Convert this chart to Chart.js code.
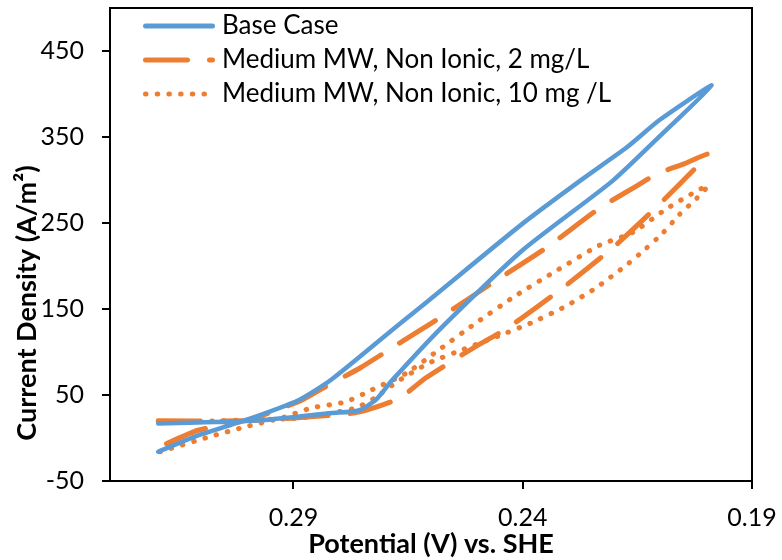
<!DOCTYPE html>
<html>
<head>
<meta charset="utf-8">
<script src="https://cdn.jsdelivr.net/npm/chart.js@4.4.0/dist/chart.umd.min.js"></script>
<style>
  html, body { margin: 0; padding: 0; background: #fff; }
</style>
</head>
<body>
<canvas id="cvChart" width="782" height="560"></canvas>
<script>
// tick labels
const xTicks = [0.19, 0.24, 0.29];
const yTicks = [-50, 50, 150, 250, 350, 450];

const seriesNames = [
  'Base Case',
  'Medium MW, Non Ionic, 2 mg/L',
  'Medium MW, Non Ionic, 10 mg /L'
];
const yTitle = 'Current Density (A/m²)';

// Base Case: forward scan then reverse scan
const baseV = [0.3195, 0.3108, 0.2961, 0.2817, 0.2758, 0.2721, 0.2685, 0.2576, 0.2401, 0.2204, 0.2101, 0.1988,
               0.2101, 0.2173, 0.2270, 0.2401, 0.2605, 0.2670, 0.2817, 0.2889, 0.2998, 0.3108, 0.3195];
const baseJ = [17, 18, 21, 29, 32, 44, 67, 129, 218, 299, 351, 410,
               370, 338, 301, 249, 160, 132, 68, 44, 22, 3, -16];

// 2 mg/L
const mw2V = [0.3195, 0.3020, 0.2904, 0.2808, 0.2758, 0.2670, 0.2611, 0.2510, 0.2430, 0.2314, 0.2204, 0.2123, 0.2062, 0.1996,
              0.2047, 0.2108, 0.2152, 0.2233, 0.2349, 0.2467, 0.2589, 0.2670, 0.2753, 0.2839, 0.2882, 0.2939, 0.2998, 0.3108, 0.3195];
const mw2J = [20, 20, 23, 27, 30, 46, 70, 104, 129, 174, 221, 261, 293, 330,
              319, 307, 293, 267, 221, 180, 137, 110, 82, 57, 44, 32, 21, 9, -11];

// 10 mg/L
const mw10V = [0.3191, 0.3086, 0.3005, 0.2928, 0.2860, 0.2786, 0.2729, 0.2655, 0.2589, 0.2504, 0.2414, 0.2322, 0.2233, 0.2160, 0.2088, 0.2018, 0.1996,
               0.2020, 0.2058, 0.2095, 0.2134, 0.2174, 0.2239, 0.2307, 0.2381, 0.2456, 0.2530, 0.2605, 0.2675, 0.2721, 0.2764, 0.2817, 0.2889, 0.2998, 0.3191];
const mw10J = [-16, 1, 13, 23, 35, 42, 56, 75, 100, 133, 166, 196, 224, 239, 266, 288, 293,
               279, 260, 238, 219, 201, 175, 153, 134, 118, 103, 87, 65, 47, 35, 29, 23, 21, 18];

const toPoints = (xs, ys) => xs.map((v, i) => ({ x: v, y: ys[i] }));

const blue = '#5B9BD5';
const orange = '#ED7D31';
const fontFamily = 'Lato, "Noto Sans", sans-serif';

const dashStyles = [[], [42, 22], [0.5, 11.2]];
const lineColors = [blue, orange, orange];

// frame round the plot area, legend inside it, y title (sits lower than centre)
const framePlugin = {
  id: 'frame',
  beforeDatasetsDraw(chart) {
    const { ctx, chartArea: a } = chart;
    ctx.save();
    ctx.strokeStyle = '#000';
    ctx.lineWidth = 2;
    ctx.strokeRect(a.left, a.top, a.right - a.left, a.bottom - a.top);
    ctx.restore();
  },
  afterDraw(chart) {
    const { ctx, chartArea: a } = chart;
    ctx.save();
    ctx.font = '26px ' + fontFamily;
    ctx.textBaseline = 'middle';
    seriesNames.forEach((name, i) => {
      const y = a.top + 18 + i * 34;
      ctx.beginPath();
      ctx.setLineDash(dashStyles[i]);
      ctx.lineCap = 'round';
      ctx.lineWidth = 5;
      ctx.strokeStyle = lineColors[i];
      ctx.moveTo(a.left + 35.5, y);
      ctx.lineTo(a.left + 102.5, y);
      ctx.stroke();
      ctx.setLineDash([]);
      ctx.fillStyle = '#000';
      ctx.fillText(name, a.left + 112, y);
    });

    ctx.translate(27, 303);
    ctx.rotate(-Math.PI / 2);
    ctx.textAlign = 'center';
    ctx.font = 'bold 27px ' + fontFamily;
    ctx.fillText(yTitle, 0, 0);
    ctx.restore();
  }
};

new Chart(document.getElementById('cvChart'), {
  type: 'scatter',
  data: {
    datasets: [
      {
        label: seriesNames[0],
        data: toPoints(baseV, baseJ),
        showLine: true,
        borderColor: blue,
        borderWidth: 4.5,
        pointRadius: 0,
        tension: 0.2,
        borderCapStyle: 'round'
      },
      {
        label: seriesNames[1],
        data: toPoints(mw2V, mw2J),
        showLine: true,
        borderColor: orange,
        borderWidth: 5,
        borderDash: dashStyles[1],
        borderCapStyle: 'round',
        pointRadius: 0,
        tension: 0.2
      },
      {
        label: seriesNames[2],
        data: toPoints(mw10V, mw10J),
        showLine: true,
        borderColor: orange,
        borderWidth: 5,
        borderDash: dashStyles[2],
        borderCapStyle: 'round',
        pointRadius: 0,
        tension: 0.2
      }
    ]
  },
  options: {
    responsive: false,
    animation: false,
    layout: { padding: { top: 8, right: 30, left: 0, bottom: 0 } },
    plugins: {
      legend: { display: false },
      tooltip: { enabled: false }
    },
    scales: {
      x: {
        type: 'linear',
        reverse: true,
        min: 0.19,
        max: 0.33,
        afterBuildTicks: scale => { scale.ticks = xTicks.map(v => ({ value: v })); },
        afterFit: scale => { scale.height = 79; },
        ticks: {
          color: '#000',
          font: { family: fontFamily, size: 25 },
          padding: 14,
          maxRotation: 0,
          callback: v => v.toFixed(2)
        },
        grid: { drawOnChartArea: false, drawTicks: true, tickLength: 8, color: '#000', lineWidth: 2 },
        border: { display: false },
        title: {
          display: true,
          text: 'Potential (V) vs. SHE',
          color: '#000',
          font: { family: fontFamily, size: 27, weight: 'bold' },
          padding: { top: 0, bottom: 0 }
        }
      },
      y: {
        type: 'linear',
        min: -50,
        max: 500,
        afterBuildTicks: scale => { scale.ticks = yTicks.map(v => ({ value: v })); },
        afterFit: scale => {
          scale.width = 110;
          scale.paddingTop = 0;
          scale.paddingBottom = 0;
        },
        ticks: {
          color: '#000',
          font: { family: fontFamily, size: 25 },
          padding: 18
        },
        grid: { drawOnChartArea: false, drawTicks: true, tickLength: 8, color: '#000', lineWidth: 2 },
        border: { display: false },
        title: { display: false }
      }
    }
  },
  plugins: [framePlugin]
});
</script>
</body>
</html>
